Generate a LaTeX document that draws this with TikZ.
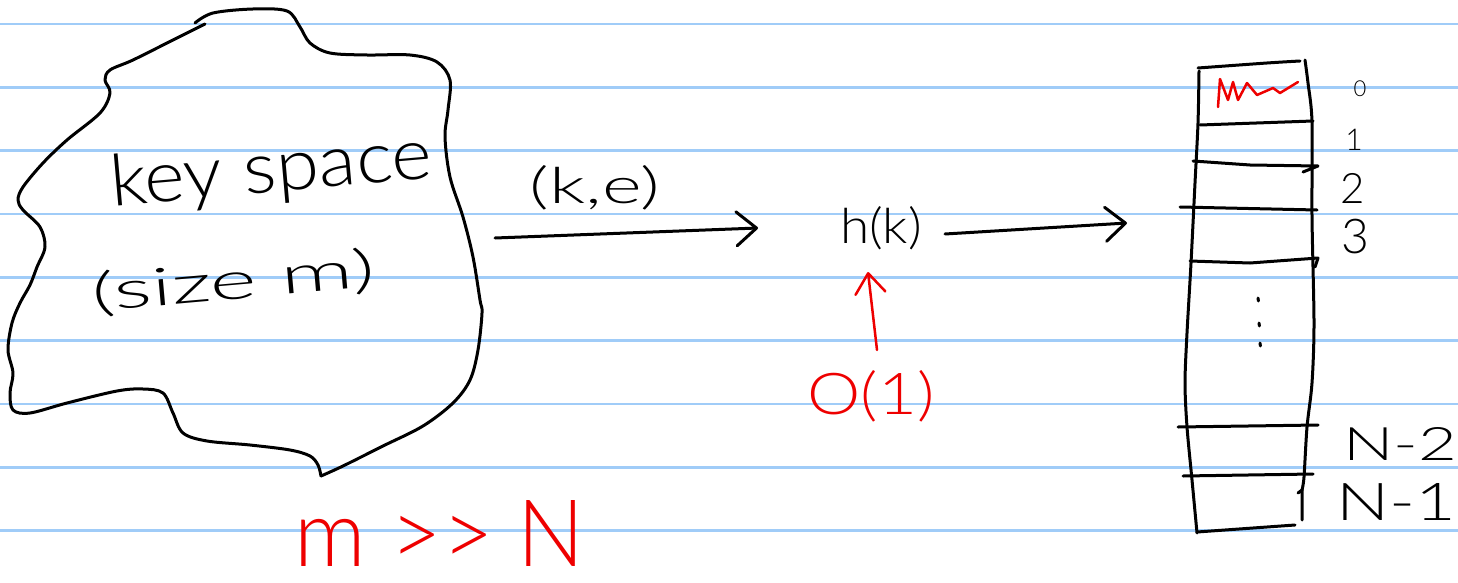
\documentclass[tikz,border=0pt]{standalone}
\usepackage{fontspec}
\IfFontExistsTF{Lato Light}{\setmainfont{Lato Light}}{\setmainfont{Liberation Sans}}
\usetikzlibrary{arrows.meta}
\definecolor{ruleblue}{RGB}{160,204,248}
\definecolor{inkred}{RGB}{238,0,0}
\newcommand\fitbox[3]{\resizebox{#1pt}{#2pt}{#3}}
\begin{document}
\begin{tikzpicture}[x=1pt,y=-1pt,
  ink/.style={line width=3pt, line cap=round, line join=round},
  rule/.style={ruleblue, line width=2.5pt},
  hand/.style={inner sep=0pt, anchor=base, font=\fontsize{50}{50}\selectfont},
  barb/.style={-{Straight Barb[length=20pt,width=34pt,round]}},
  smallbarb/.style={-{Straight Barb[length=20pt,width=30pt,round]}}
]
\fill[white] (0,0) rectangle (1458,583);
\useasboundingbox (0,0) rectangle (1458,583);
% ruled paper
\foreach \k in {0,...,8} \draw[rule] (0,{24+63.33*\k}) -- (1458,{24+63.33*\k});

% key space blob
\draw[ink] plot[smooth, tension=0.55] coordinates {(195,23) (213,13) (253,9) (287,11) (300,27) (310,43) (330,53) (367,55) (410,55) (437,62) (450,80) (448,110) (445,137) (450,177) (463,217) (473,257) (480,300) (482,313) (478,350) (470,380) (453,403) (423,426) (383,446) (343,466) (321,476)};
\draw[ink] plot[smooth, tension=0.55] coordinates {(321,476) (318,465) (310,456) (290,450) (250,445) (207,441) (183,433) (173,413) (163,393) (143,389) (117,391) (67,403) (30,413) (13,410) (10,393) (13,373) (8,350) (12,323) (20,303) (30,285) (37,267) (45,247) (40,227) (23,210) (18,200) (23,187) (43,163) (67,140) (100,113) (110,93) (105,80) (110,70) (133,60) (173,40) (205,24)};

\node[hand, rotate=5, font=\fontsize{72}{72}\selectfont] (ks) at (273,192) {\fitbox{323}{52}{key space}};
\node[hand, rotate=5, font=\fontsize{56}{56}\selectfont] (sz) at (235,299) {\fitbox{284}{40}{(size m)}};

% (k,e) arrow
\coordinate (a1s) at (495,238);
\coordinate (a1t) at (758,228);
\draw[ink, barb] (a1s) -- (a1t);
\node[hand] (ke) at (595,203) {\fitbox{130}{38}{(k,e)}};

% h(k)
\node[hand] (hk) at (881,243) {\fitbox{82}{37}{h(k)}};
\coordinate (a2s) at (945,234);
\coordinate (a2t) at (1127,223);
\draw[ink, barb] (a2s) -- (a2t);

% O(1)
\node[hand, inkred] (o1) at (871,414) {\fitbox{127}{44}{O(1)}};
\coordinate (a3s) at (877,350);
\coordinate (a3t) at (868,272);
\draw[ink, inkred, line width=2.5pt, smallbarb] (a3s) -- (a3t);

% m >> N
\node[hand, inkred, font=\fontsize{90}{90}\selectfont] (mn) at (440,566) {\fitbox{290}{66}{m >{}> N}};

% hash table array
\draw[ink] plot[smooth, tension=0.5] coordinates {(1198,68) (1267,63) (1300,61)};
\draw[ink] plot[smooth, tension=0.5] coordinates {(1199,71) (1198,123) (1195,183) (1191,263) (1187,333) (1185,383) (1187,427) (1192,480) (1197,533)};
\draw[ink] plot[smooth, tension=0.5] coordinates {(1305,60) (1308,83) (1312,122) (1312,217) (1314,323) (1312,383) (1307,427) (1304,477) (1302,490)};
\draw[ink] (1298,493) -- (1302,490) -- (1302,520);
\draw[ink] (1197,532) -- (1295,525);
\draw[ink] (1200,125) -- (1313,121);
\draw[ink] (1193,161) -- (1250,165) -- (1318,166) -- (1303,172);
\draw[ink] (1180,207) -- (1317,210);
\draw[ink] (1190,261) -- (1250,263) -- (1318,258) -- (1315,267);
\draw[ink] (1178,427) -- (1318,425);
\draw[ink] (1183,476) -- (1313,474);
% red scribble in slot 0
\draw[ink, inkred, line width=2.5pt] (1218,107) -- (1220,79) -- (1228,100) -- (1233,82) -- (1238,100) -- (1247,83) -- (1257,95) -- (1273,88) -- (1280,93) -- (1298,82);
% vertical dots
\foreach \p in {(1258,298),(1259,323),(1260,343)} \draw[ink] \p -- ++(0.4,3);

% slot labels
\node[hand, font=\fontsize{22}{22}\selectfont] (l0) at (1360,97) {0};
\node[hand, font=\fontsize{30}{30}\selectfont] (l1) at (1354,150) {1};
\node[hand, font=\fontsize{42}{42}\selectfont] (l2) at (1353,203) {2};
\node[hand, font=\fontsize{48}{48}\selectfont] (l3) at (1355,253) {3};
\node[hand, font=\fontsize{46}{46}\selectfont] (ln2) at (1400,460) {\fitbox{114}{33}{N-2}};
\node[hand, font=\fontsize{50}{50}\selectfont] (ln1) at (1396,520) {\fitbox{120}{37}{N-1}};
\end{tikzpicture}
\end{document}
